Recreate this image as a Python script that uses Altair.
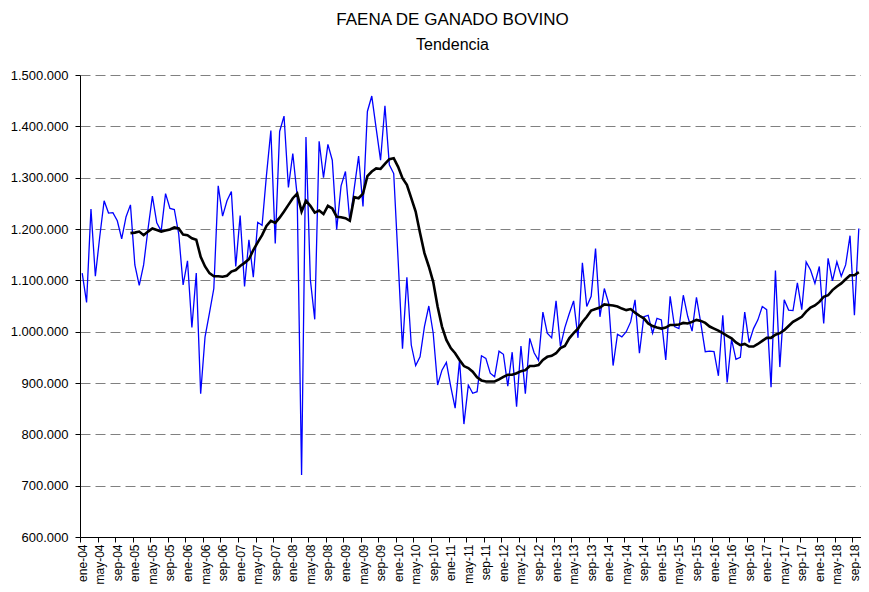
import json
import altair as alt
import pandas as pd

# ---- data ----
MESES = ["ene", "feb", "mar", "abr", "may", "jun", "jul", "ago", "sep", "oct", "nov", "dic"]
ANIO_INICIO = 2004
N_MESES = 178  # ene-04 .. oct-18

# Faena mensual (miles de cabezas)
faena = [
    1114, 1057, 1239, 1108, 1185, 1255, 1231, 1232, 1216, 1181, 1224, 1247,
    1130, 1090, 1130, 1200, 1264, 1212, 1196, 1269, 1240, 1238, 1190, 1091,
    1138, 1008, 1114, 879, 990, 1036, 1084, 1284, 1225, 1255, 1273, 1127,
    1226, 1088, 1179, 1106, 1213, 1207, 1305, 1392, 1172, 1390, 1420, 1281,
    1347, 1265, 721, 1379, 1101, 1024, 1371, 1300, 1365, 1334, 1199, 1284,
    1312, 1214, 1279, 1342, 1244, 1429, 1459, 1396, 1334, 1440, 1325, 1308,
    1140, 967, 1106, 974, 934, 951, 1010, 1050, 997, 896, 925, 940,
    893, 851, 944, 820, 896, 880, 883, 953, 948, 919, 912, 962,
    956, 894, 960, 854, 972, 879, 987, 959, 944, 1038, 997, 988,
    1060, 971, 1008, 1035, 1060, 988, 1134, 1049, 1069, 1162, 1029, 1084,
    1055, 934, 995, 990, 1000, 1019, 1062, 958, 1029, 1032, 997, 1026,
    1023, 945, 1069, 1010, 1006, 1071, 1030, 1001, 1067, 1016, 961, 962,
    961, 914, 1032, 901, 985, 946, 950, 1038, 979, 1006, 1023, 1049,
    1043, 892, 1119, 931, 1062, 1042, 1041, 1095, 1043, 1136, 1120, 1094,
    1127, 1016, 1143, 1099, 1136, 1108, 1130, 1187, 1032, 1201,
]

# Tendencia (desde dic-04)
TEND_INICIO = 11
tendencia = [
    1192,
    1193, 1195, 1188, 1195, 1201, 1198, 1195, 1197, 1199, 1203, 1201, 1189,
    1188, 1182, 1179, 1146, 1127, 1114, 1108, 1108, 1107, 1109, 1117, 1120,
    1128, 1134, 1141, 1159, 1174, 1188, 1206, 1216, 1212, 1222, 1234, 1247,
    1260, 1269, 1234, 1255, 1245, 1232, 1236, 1229, 1245, 1240, 1224, 1223,
    1221, 1216, 1262, 1260, 1269, 1303, 1312, 1318, 1317, 1327, 1336, 1338,
    1321, 1299, 1286, 1260, 1234, 1192, 1153, 1127, 1097, 1049, 1010, 984,
    968, 958, 945, 933, 929, 922, 911, 905, 903, 903, 903, 907,
    912, 916, 916, 919, 923, 925, 933, 933, 935, 945, 951, 953,
    958, 968, 972, 987, 997, 1006, 1019, 1029, 1041, 1044, 1047, 1053,
    1052, 1051, 1049, 1045, 1042, 1044, 1037, 1031, 1026, 1016, 1011, 1008,
    1006, 1008, 1013, 1013, 1014, 1017, 1016, 1019, 1023, 1021, 1017, 1010,
    1006, 1002, 997, 992, 987, 979, 974, 976, 971, 971, 976, 982,
    988, 988, 994, 997, 1003, 1011, 1019, 1024, 1029, 1039, 1047, 1051,
    1058, 1068, 1071, 1081, 1088, 1094, 1102, 1110, 1110, 1116,
]

Y_TICKS = [600000, 700000, 800000, 900000, 1000000, 1100000, 1200000, 1300000, 1400000, 1500000]
X_TICK_EVERY = 4

etiquetas = [
    f"{MESES[i % 12]}-{(ANIO_INICIO + i // 12) % 100:02d}" for i in range(N_MESES)
]

df_faena = pd.DataFrame({"idx": list(range(N_MESES)), "valor": [v * 1000 for v in faena]})
df_tend = pd.DataFrame({
    "idx": list(range(TEND_INICIO, TEND_INICIO + len(tendencia))),
    "valor": [v * 1000 for v in tendencia],
})

# ---- layout ----
W, H = 781, 462
step = W / N_MESES
FONT = "Liberation Sans"

x_enc = alt.X(
    "idx:Q",
    scale=alt.Scale(domain=[-0.5, N_MESES - 0.5], nice=False, zero=False),
    axis=alt.Axis(
        values=list(range(0, N_MESES, X_TICK_EVERY)),
        tickCount=200,
        labelExpr=f"{json.dumps(etiquetas)}[datum.value]",
        labelAngle=-90,
        labelAlign="right",
        labelBaseline="middle",
        tickOffset=-step / 2,
        labelOffset=step / 2,
        tickSize=5,
        tickColor="black",
        domainColor="black",
        labelPadding=2,
        labelFont=FONT,
        labelFontSize=12,
        labelColor="black",
        grid=False,
        title=None,
        labelOverlap=False,
        labelBound=False,
        labelFlush=False,
    ),
)

y_enc = alt.Y(
    "valor:Q",
    scale=alt.Scale(domain=[600000, 1500000], nice=False, zero=False),
    axis=alt.Axis(
        values=Y_TICKS,
        tickCount=50,
        labelExpr="replace(replace(format(datum.value, ','), ',', '.'), ',', '.')",
        grid=True,
        gridColor="#808080",
        gridDash=[10, 5],
        gridWidth=1,
        tickSize=5,
        tickColor="black",
        domainColor="black",
        labelPadding=7,
        labelFont=FONT,
        labelFontSize=13,
        labelColor="black",
        title=None,
        labelOverlap=False,
    ),
)

linea_faena = alt.Chart(df_faena).mark_line(color="#0000FF", strokeWidth=1.3).encode(x=x_enc, y=y_enc)
linea_tend = alt.Chart(df_tend).mark_line(color="black", strokeWidth=2.6).encode(x="idx:Q", y="valor:Q")

chart = (
    alt.layer(linea_faena, linea_tend)
    .properties(
        width=W,
        height=H,
        autosize=alt.AutoSizeParams(type="none"),
        padding={"left": 72, "top": 67, "right": 0, "bottom": 47},
        title=alt.TitleParams(
            text="FAENA DE GANADO BOVINO",
            subtitle="Tendencia",
            font=FONT,
            fontSize=17,
            fontWeight="normal",
            color="black",
            subtitleFont=FONT,
            subtitleFontSize=16,
            subtitleColor="black",
            subtitlePadding=8,
            anchor="middle",
            dx=-18,
            offset=15,
        ),
    )
    .configure_view(stroke=None)
)

chart.save("out.html", embed_options={"renderer": "svg", "actions": False})
